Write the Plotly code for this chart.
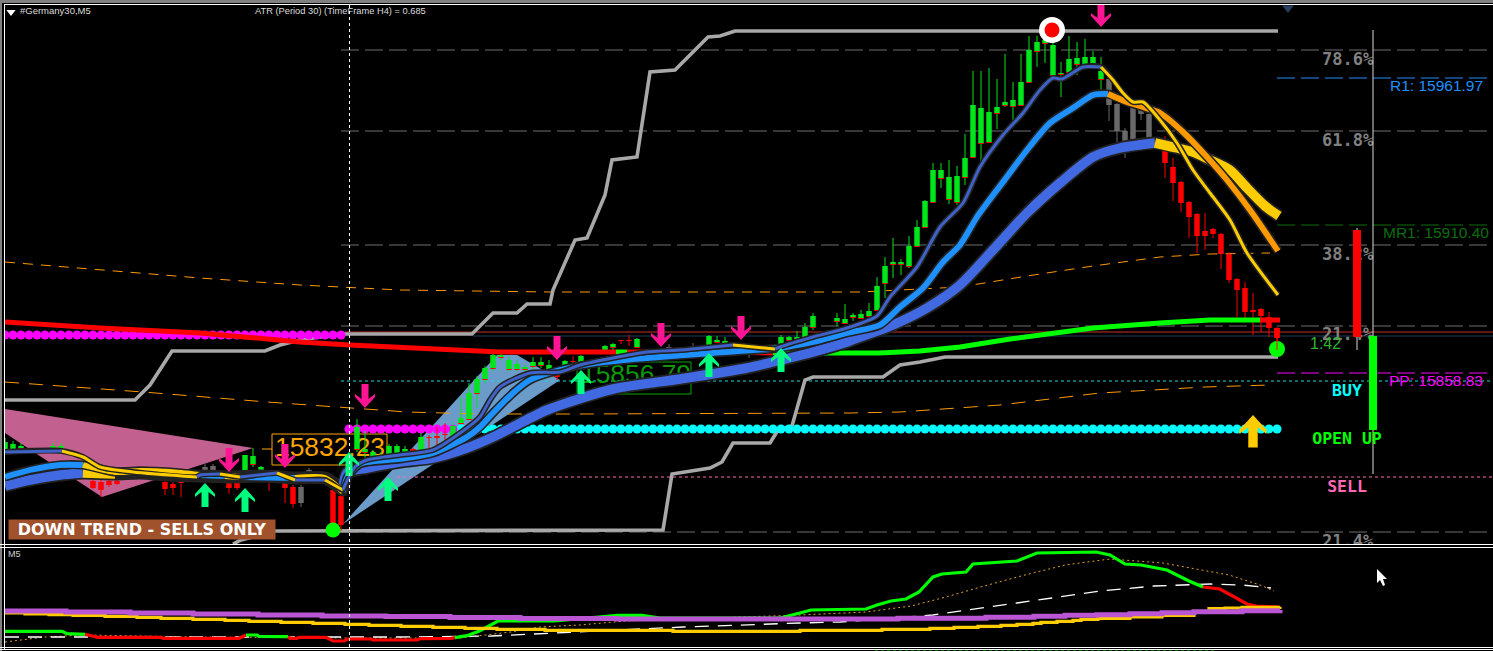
import numpy as np
import plotly.graph_objects as go

# ---- scales: M5 chart, one bar = 8 x-units; price read as ticks below the top of the window
TOP_PRICE = 15989.0
TICK = 0.35
def price(v):
    return [None if d is None else TOP_PRICE - TICK * d for d in v]

# ---- candles (x position, body top, body bottom, high, low, in ticks below top)
green_x = [5,13,21,53,61,245,253,261,357,365,373,381,389,397,405,421,453,461,469,477,485,493,501,509,517,525,533,541,549,565,581,605,613,637,709,717,725,781,789,797,805,813,837,845,853,861,869,877,885,893,901,909,917,925,933,941,949,957,965,973,981,989,997,1005,1013,1021,1029,1037,1045,1053,1061,1069,1077,1085,1093,1101]
green_top = [442,444,446,446,446,455,456,467,427,449,452,455,446,446,449,437,426,418,393,379,368,355,355,360,364,367,362,362,365,361,356,346,344,339,336,340,341,337,337,337,327,316,318,319,315,314,311,286,266,262,262,246,227,201,170,170,177,176,158,105,108,112,107,102,100,82,50,42,40,45,73,59,58,57,57,71]
green_bot = [450,449,448,451,450,471,464,470,449,452,460,460,457,457,456,450,440,423,419,393,379,368,357,369,369,369,366,365,369,369,364,350,347,347,346,342,343,344,340,339,337,327,321,323,317,318,316,310,283,264,264,266,246,227,202,178,199,202,177,157,143,142,113,105,106,105,82,51,43,75,74,72,64,64,63,79]
green_high = [438,441,443,443,443,455,448,466,419,431,450,452,444,444,446,433,423,397,383,376,366,353,352,357,361,365,357,357,360,360,355,345,343,338,335,336,337,335,336,331,323,313,313,304,313,310,303,277,257,238,259,236,220,200,163,163,160,166,134,71,71,68,79,54,82,54,36,36,36,32,62,36,42,39,51,57]
green_low = [452,450,449,452,451,471,467,471,452,460,462,461,458,458,457,451,441,424,420,408,383,371,360,371,371,371,370,368,371,370,366,351,353,348,347,343,344,345,342,340,338,330,326,324,321,319,317,311,298,278,275,268,247,228,203,188,204,205,185,158,162,143,129,107,122,106,83,67,63,76,97,76,75,65,64,90]

red_x = [93,101,109,117,165,173,181,229,237,269,285,293,333,341,413,429,437,445,557,573,621,629,1165,1173,1181,1189,1197,1205,1213,1221,1229,1237,1245,1253,1261,1269,1277]
red_top = [481,482,481,481,482,484,481,482,483,480,482,487,490,496,449,437,436,434,375,361,340,340,151,167,182,202,214,231,229,234,254,279,288,310,309,317,328]
red_bot = [488,490,485,484,489,488,483,488,488,482,488,504,530,525,451,438,438,435,377,362,341,341,163,183,203,217,236,236,234,254,280,290,312,312,316,328,338]
red_high = [480,480,480,480,480,482,480,480,481,478,480,485,488,494,448,435,427,423,367,356,340,335,136,158,181,201,213,213,228,233,252,278,282,293,308,312,327]
red_low = [489,497,487,485,495,495,497,494,490,491,503,508,532,531,452,450,446,442,380,366,344,346,178,201,212,238,253,250,238,269,283,317,318,335,332,337,350]

gray_x = [205,213,301,309,669,693,749,1109,1117,1125,1133,1141,1149]
gray_top = [467,466,487,470,347,346,351,79,104,131,108,110,114]
gray_bot = [470,470,503,472,348,347,353,105,131,143,142,114,138]
gray_high = [462,464,485,468,344,343,350,77,103,128,107,109,113]
gray_low = [471,471,507,473,349,348,358,121,142,158,143,120,139]

# ---- moving average ribbons; *_c gives the colour of the stretch starting at each point
BL, MB, RB, GD, OR, DK, RD, GN = "#3f62c8", "#1e90ff", "#4169e1", "#ffcc00", "#ff9900", "#222222", "#ff0000", "#00ff00"
fast_x = [5,62,83,100,133,197,200,220,240,277,295,325,343,345,355,367,400,433,467,480,490,500,530,560,580,613,647,680,713,733,775,780,813,847,877,890,917,940,963,980,1003,1023,1040,1053,1062,1083,1101,1113,1123,1133,1143,1160,1177,1193,1210,1230,1247,1278]
fast_y = [452,451,457,467,472,477,475,474,477,473,480,480,490,485,467,460,455,450,428,417,400,387,373,372,365,358,352,350,347,345,349,347,337,328,316,297,267,227,203,167,135,113,90,78,79,67,67,80,93,102,102,120,143,170,193,220,253,295]
fast_c = [BL,GD,GD,GD,GD,BL,BL,GD,BL,GD,BL,GD]+[BL]*17+[GD]+[BL]*16+[GD]*12
mid_x = [5,30,60,83,115,140,170,200,225,240,295,325,343,347,360,400,433,467,480,493,513,530,560,597,647,713,780,813,847,880,900,923,943,960,977,1003,1027,1050,1073,1093,1108,1127,1143,1160,1183,1207,1227,1250,1278]
mid_y = [477,470,465,465,472,471,472,475,476,477,478,478,492,478,464,459,453,437,427,413,393,380,370,363,358,353,348,342,333,325,307,288,262,245,217,182,150,123,108,95,94,102,107,113,132,157,180,210,251]
mid_c = [MB]*3+[GD]*4+[MB,GD,MB,GD,GD]+[MB]*28+[OR]*9
slow_x = [5,30,60,83,115,140,170,200,230,260,295,325,343,347,367,400,433,467,493,513,547,613,680,747,773,813,847,860,880,893,927,960,993,1027,1060,1093,1120,1155,1177,1193,1210,1230,1247,1265,1279]
slow_y = [486,480,475,473,474,473,475,476,477,476,478,478,488,473,468,462,458,448,437,427,410,389,379,368,362,352,342,337,330,325,308,285,250,213,183,157,148,143,148,152,160,170,188,206,216]
slow_c = [RB]*3+[GD]+[DK]*8+[RB]*25+[GD]*8

ma_x = [5,100,200,300,350,500,616,627,703,715,773,880,920,960,1010,1060,1093,1160,1210,1260,1280]
ma_y = [322,328,333,342,345,352,352,352,352,352,353,353,351,347,339,333,328,323,320,320,320]
ma_c = [RD,RD,RD,RD,RD,RD,GN,RD,GN,RD,GN,GN,GN,GN,GN,GN,GN,GN,GN,RD,RD]

# ---- stepped envelopes and curved bands
upper_x = [5,135,150,172,265,280,300,340,472,493,517,527,550,553,575,587,605,612,637,650,675,690,708,720,735,1278]
upper_y = [400,400,385,351,351,345,340,334,334,313,313,304,304,290,240,238,195,160,157,72,70,55,37,36,31,31]
lower_x = [233,241,275,663,672,710,722,733,770,778,792,805,813,883,900,920,945,1278]
lower_y = [544,540,531,530,474,468,462,443,443,430,426,380,377,377,365,362,357,357]
band_hi_x = [5,100,200,300,400,550,860,960,1027,1093,1160,1210,1270]
band_hi_y = [262,270,278,285,290,292,292,287,276,266,257,254,253]
band_lo_x = [5,143,267,347,407,480,577,850,900,1000,1100,1205,1270]
band_lo_y = [382,392,402,408,412,414,414,413,412,405,393,387,385]

# ---- pivot and fibonacci levels
lvl_y = [50,131,245,326,532,78,225,373,381,477,332,336]
lvl_x0 = [341,341,341,341,341,1277,1277,1277,341,397,345,473]
lvl_x1 = [1487,1487,1487,1487,1487,1487,1487,1487,1493,1493,1493,1493]
lvl_col = ["#6e6e6e"]*5+["#1e90ff","#0b6e0b","#ff00ff","#1fd8d8","#ff69b4","#c83232","#1f3a5f"]
lvl_dash = ["18px,6px"]*8+["3px,3px","3px,3px","solid","solid"]

# ---- dot rows
magenta_a_x = list(range(5,346,8)); magenta_a_level = 335
magenta_b_x = list(range(349,456,8)); magenta_b_level = 429
cyan_x = list(range(453,1278,8)); cyan_level = 429

# ---- signal arrows
pink_x = [229,285,365,557,661,741,1101]
pink_tip = [472,468,408,360,347,340,27]
spring_x = [205,245,349,388,581,709,781]
spring_tip = [483,488,452,477,370,353,348]
gold_arrow_x = [1253]
gold_arrow_tip = [415]

# ---- triangles
pink_tri_x = [5,253,102,5]; pink_tri_y = [409,448,497,433]
blue_tri_x = [343,497,517,560]; blue_tri_y = [524,355,355,380]

# ---- text
lab_text = ["#Germany30,M5","ATR (Period 30) (TimeFrame H4) = 0.685","78.6%","61.8%","38.2%","21.4%","21.4%","R1: 15961.97","MR1: 15910.40","PP: 15858.83","1:42"]
lab_x = [20,255,1322,1322,1322,1322,1322,1390,1383,1389,1310]
lab_y = [12,12,61,142,256,336,543,87,234,382,345]
lab_col = ["#dddddd","#dddddd","#808080","#808080","#808080","#808080","#808080","#1e90ff","#0b6e0b","#ff00ff","#32b432"]
lab_size = [9.5,9.3,17,17,17,17,17,15.5,15.5,15.5,16]
lab_font = ["Liberation Sans","Liberation Sans"]+["DejaVu Sans Mono Bold"]*5+["Liberation Sans"]*4
sig_text = ["BUY","OPEN UP","SELL"]
sig_x = [1347,1347,1347]
sig_y = [392,440,488]
sig_col = ["#00ffff","#00ff00","#ff69b4"]
big_text = ["15832.23","15856.79"]
big_x = [330,636]
big_y = [449,376]
big_col = ["#ffa500","#0a9a0a"]

# ---- lower window (oscillator read in ticks from the window floor)
purple_x = [5,66,130,193,258,322,386,450,520,617,700,898,986,1034,1065,1097,1130,1162,1194,1242,1280]
purple_y = [611,612,613,614,615,616,616.5,617.5,618.5,619,619,618.3,617.3,616.3,615.3,614.7,613.7,612.7,611.7,610.7,610]
yellow_x = [5,25,49,73,105,137,161,193,225,249,281,313,345,369,401,433,465,497,545,673,800,882,930,954,978,1001,1017,1033,1041,1057,1073,1081,1098,1130,1162,1194,1209,1225,1242,1280]
yellow_y = [613,614,614.7,615.3,616.3,617.3,618.3,619.3,620.3,621.3,622.3,623.3,624.3,625.3,626.3,627.3,628.3,629.3,630.3,631.3,630.3,629.3,628.3,627.3,626.3,625.3,624.3,623.3,622.3,621.3,620.3,619.3,618.3,617,615.5,612,608.7,608,607.3,606.7]
osc_x = [5,62,67,83,85,98,161,163,201,225,239,246,257,259,277,288,290,297,299,326,333,344,348,371,373,417,420,451,455,467,480,489,498,521,554,618,642,660,780,800,811,866,877,891,906,919,933,942,966,973,1017,1037,1096,1110,1125,1141,1167,1189,1203,1220,1247,1256,1278]
osc_y = [631.3,631.3,633.7,633.7,634.3,637.3,637.3,638.3,638.3,638.3,638.3,635,635,636.3,636.3,636.7,638.3,638.3,637.3,637.3,641,641,639,639,640,640,638.7,638.3,637.7,635.7,630.7,626,621,620.7,621,615.3,615.3,618,618,613,610,609,605,601,599,592,577,574,572,564,561,553,552,555,564,565,570,581,587,589,604,606,607]
osc_c = [GN]*4+[RD]*7+[GN]*4+[RD]*13+[GN]*30+[RD]*5
white_x = [5,200,400,491,536,580,654,683,800,840,933,977,1017,1052,1101,1154,1211,1242,1271]
white_y = [637,637,637,636,634,632,628.7,627,623,622,615,609,603,598,591,586,584,585,588]
dot_x = [5,45,85,200,348,384,460,511,540,580,625,800,866,911,946,977,1021,1065,1110,1163,1198,1229,1260,1274]
dot_y = [642,637,635,637,638,638,638,632,627,625,621,615,612,606,597,588,576,565,559,563,569,575,585,591]
floor_dots_x = [875,1216]; floor_dots_y = [650,650]
cursor_x = [1377,1377,1380,1383,1385,1383,1387]; cursor_y = [569,583,580,586,585,579,579]

fig = go.Figure()
P = dict(hoverinfo="skip", showlegend=False)

def add_line(x, y, color, width, dash="solid", shape="linear", sub=False, conv=True):
    yy = y if sub or not conv else price(y)
    ax = dict(xaxis="x2", yaxis="y2") if sub else {}
    ln = dict(color=color, width=width, dash=dash, shape=shape)
    if shape == "spline":
        ln["smoothing"] = 0.7
    fig.add_trace(go.Scatter(x=x, y=yy, mode="lines", line=ln, **ax, **P))

def add_coloured(x, y, cols, width, sub=False, shape="linear"):
    start = 0
    n = len(x)
    cols = list(cols) + [cols[-1]] * (n - len(cols))
    for i in range(1, n):
        if i == n - 1 or cols[i] != cols[start]:
            add_line(x[start:i+1], y[start:i+1], cols[start], width, sub=sub, shape=shape)
            start = i

def gaps(xs, a, b):
    ox, oy = [], []
    for xv, u, v in zip(xs, a, b):
        ox += [xv, xv, None]; oy += [u, v, None]
    return ox, oy

def add_candles(xs, top, bot, hi, lo, col, wick=None):
    wx, wy = gaps(xs, hi, lo)
    add_line(wx, wy, wick or col, 1)
    bx, by = gaps(xs, top, [max(b, t + 1) for t, b in zip(top, bot)])
    add_line(bx, by, col, 5.5)

def fill_poly(x, y, color, sub=False):
    ax = dict(xaxis="x2", yaxis="y2") if sub else {}
    yy = y if sub else price(y)
    fig.add_trace(go.Scatter(x=x, y=yy, mode="lines", fill="toself", fillcolor=color, line=dict(width=0, color=color), **ax, **P))

def text_tr(x, y, t, col, size, fam, pos="middle right", bold=False):
    fig.add_trace(go.Scatter(x=[x], y=price([y]), mode="text", text=[t], textposition=pos,
                             textfont=dict(color=col, size=size, family=fam, weight="bold" if bold else "normal"), **P))

# triangles
fill_poly(pink_tri_x, pink_tri_y, "#c2608f")
fill_poly(blue_tri_x, blue_tri_y, "#6a9bc9")

# levels
for y0, a, b, c, d in zip(lvl_y, lvl_x0, lvl_x1, lvl_col, lvl_dash):
    add_line([a, b], [y0, y0], c, 1, dash=d)
add_line(band_hi_x, band_hi_y, "#ff9900", 1, dash="10px,8px")
add_line(band_lo_x, band_lo_y, "#ff9900", 1, dash="14px,10px")

# boxes and big price labels beneath everything else
for t, x, y0, c in zip(big_text, big_x, big_y, big_col):
    text_tr(x, y0, t, c, 26.4, "Liberation Sans", pos="middle center")

# fib text
for t, x, y0, c, s, f in zip(lab_text[2:7], lab_x[2:7], lab_y[2:7], lab_col[2:7], lab_size[2:7], lab_font[2:7]):
    text_tr(x, y0, t, c, s, "DejaVu Sans Mono", bold=True)

# envelopes
add_line(upper_x, upper_y, "#a8a8a8", 3.6)
add_line(lower_x, lower_y, "#a8a8a8", 3.6)

# dot rows
def dots(xs, level, col, size=9):
    fig.add_trace(go.Scatter(x=xs, y=price([level] * len(xs)), mode="markers", marker=dict(color=col, size=size, line=dict(width=0)), **P))
dots(cyan_x, cyan_level, "#00ffff")
dots(magenta_b_x, magenta_b_level, "#ff00ff")
dots(magenta_a_x, magenta_a_level, "#ff00ff")

# candles
add_candles(gray_x, gray_top, gray_bot, gray_high, gray_low, "#696969")
add_candles(green_x, green_top, green_bot, green_high, green_low, "#00e61a", wick="#00e61a")
tx, ty = gaps(green_x, green_bot, [b + 1 for b in green_bot])
add_line(tx, ty, "#ff0000", 5.5)
add_candles(red_x, red_top, red_bot, red_high, red_low, "#ff0000")

# long MA
add_coloured(ma_x, ma_y, ma_c, 5)

# ribbons
add_line(slow_x, slow_y, DK, 13, shape="spline")
add_coloured(slow_x, slow_y, slow_c, 9.5, shape="spline")
add_line(mid_x, mid_y, DK, 9, shape="spline")
add_coloured(mid_x, mid_y, mid_c, 5.8, shape="spline")
add_line(fast_x, fast_y, DK, 6, shape="spline")
add_coloured(fast_x, fast_y, fast_c, 3, shape="spline")

# arrows
UP = [(0,0),(10,11),(10,14),(3.5,9),(3.5,24),(-3.5,24),(-3.5,9),(-10,14),(-10,11),(0,0)]
def arrows(xs, tips, col, sign, scale=1.0):
    ax, ay = [], []
    for x, t in zip(xs, tips):
        for dx, dy in UP:
            ax.append(x + dx * scale); ay.append(t + sign * dy * scale)
        ax.append(None); ay.append(None)
    fill_poly(ax, ay, col)
arrows(pink_x, pink_tip, "#ff1493", -1)
arrows(spring_x, spring_tip, "#00ff7f", 1)
arrows(gold_arrow_x, gold_arrow_tip, "#ffcc00", 1, 1.35)

# circles
circ_x = [333, 1277, 1052, 1052]
circ_y = [530, 349, 30, 30]
circ_s = [15, 16, 26, 15]
circ_c = ["#00ff00", "#00ff00", "#ffffff", "#ff0000"]
fig.add_trace(go.Scatter(x=circ_x, y=price(circ_y), mode="markers", marker=dict(size=circ_s, color=circ_c, opacity=1, line=dict(width=0)), **P))
add_candles([1277], [328], [338], [328], [350], "#ff0000")

# right side gauge
add_line([1373, 1373], [30, 474], "#d8d8d8", 1)
add_line([1357, 1357], [228, 350], "#d8d8d8", 1)
add_line([1357, 1357], [230, 337], "#ff0000", 8)
add_line([1373, 1373], [336, 430], "#00ff00", 8)

# header and right labels
for t, x, y0, c, s, f in list(zip(lab_text, lab_x, lab_y, lab_col, lab_size, lab_font))[:2] + list(zip(lab_text, lab_x, lab_y, lab_col, lab_size, lab_font))[7:]:
    text_tr(x, y0, t, c, s, f)
for t, x, y0, c in zip(sig_text, sig_x, sig_y, sig_col):
    text_tr(x, y0, t, c, 16.5, "DejaVu Sans Mono", pos="middle center", bold=True)
fig.add_trace(go.Scatter(x=[11, 1288], y=price([12, 8]), mode="markers",
                         marker=dict(symbol="triangle-down", size=[8, 10], color=["#ffffff", "#2a4060"], opacity=1, line=dict(width=0)), **P))

# lower window
add_line(dot_x, dot_y, "#e0a030", 1, dash="2px,3px", sub=True)
add_line(white_x, white_y, "#ffffff", 1.3, dash="14px,9px", sub=True)
add_coloured(osc_x, osc_y, osc_c, 3.2, sub=True)
add_line(yellow_x, yellow_y, "#ffcc00", 3.2, shape="hv", sub=True)
add_line(purple_x, purple_y, "#ba55d3", 5, shape="hv", sub=True)
add_line(floor_dots_x, floor_dots_y, "#00c800", 1, dash="3px,3px", sub=True)
fill_poly(cursor_x, cursor_y, "#ffffff", sub=True)
fig.add_trace(go.Scatter(x=[8], y=[555], mode="text", text=["M5"], textposition="middle right",
                         textfont=dict(color="#d0d0d0", size=9, family="Liberation Sans"), xaxis="x2", yaxis="y2", **P))

W, H = 1493, 651
def frame(x0, y0, x1, y1, color, width=1, dash="solid"):
    return dict(type="line", xref="paper", yref="paper", x0=x0/W, x1=x1/W, y0=1-y0/H, y1=1-y1/H,
                line=dict(color=color, width=width, dash=dash), layer="above")
shapes = [
    frame(0, 1.5, W, 1.5, "#808080", 3), frame(1, 0, 1, H, "#808080", 2),
    frame(4.5, 4.5, 4.5, 649, "#ffffff"), frame(4, 4.5, W, 4.5, "#ffffff"),
    frame(0, 544.5, W, 544.5, "#ffffff"), frame(0, 547.5, W, 547.5, "#ffffff"),
    frame(0, 647.5, W, 647.5, "#ffffff"), frame(0, 649.5, W, 649.5, "#ffffff"),
    frame(349.5, 5, 349.5, 544, "#ffffff", 1, "3px,3px"), frame(349.5, 548, 349.5, 647, "#ffffff", 1, "3px,3px"),
    dict(type="rect", layer="below", xref="x", yref="y", x0=272, x1=387, y0=price([434])[0], y1=price([465])[0], line=dict(color="#ffa500", width=1)),
    dict(type="line", layer="below", xref="x", yref="y", x0=262, x1=272, y0=price([449])[0], y1=price([449])[0], line=dict(color="#ffa500", width=1)),
    dict(type="rect", layer="below", xref="x", yref="y", x0=577, x1=691, y0=price([362])[0], y1=price([394])[0], line=dict(color="#00aa00", width=1)),
]
ann = [dict(x=142, y=price([529.5])[0], xref="x", yref="y", text="<b>DOWN TREND - SELLS ONLY</b>", showarrow=False,
            width=266, height=19, borderpad=0, bgcolor="#a0522d", font=dict(color="#ffffff", size=16, family="DejaVu Sans"))]

MAIN_TOP, MAIN_BOT, SUB_TOP, SUB_BOT = 5, 544, 548, 651
LEFT = 5
hidden = dict(visible=False, fixedrange=True)
fig.update_layout(
    width=W, height=H, margin=dict(l=0, r=0, t=0, b=0), paper_bgcolor="#000000", plot_bgcolor="#000000",
    showlegend=False, shapes=shapes, annotations=ann, hovermode=False,
    xaxis=dict(range=[LEFT, W], domain=[LEFT/W, 1], anchor="y", **hidden),
    yaxis=dict(range=price([MAIN_BOT, MAIN_TOP]), domain=[1-MAIN_BOT/H, 1-MAIN_TOP/H], anchor="x", **hidden),
    xaxis2=dict(range=[LEFT, W], domain=[LEFT/W, 1], anchor="y2", **hidden),
    yaxis2=dict(range=[SUB_BOT, SUB_TOP], domain=[1-SUB_BOT/H, 1-SUB_TOP/H], anchor="x2", **hidden),
)
fig.write_html("out.html", config={"displayModeBar": False},
               post_script="document.body.style.margin='0';document.body.style.background='#000';document.body.style.overflow='hidden';")
